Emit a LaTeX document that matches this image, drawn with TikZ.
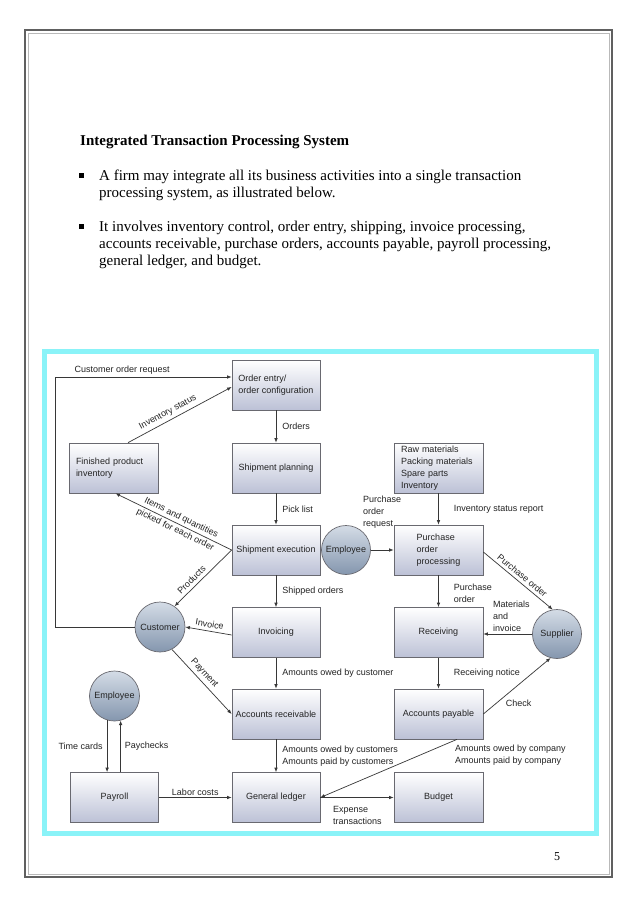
\documentclass[tikz,border=0pt]{standalone}
\usepackage{fontspec}
\setmainfont{Liberation Serif}
\newfontfamily\diafont{Liberation Sans}
\usetikzlibrary{arrows.meta,shadings}
\definecolor{boxbot}{RGB}{188,193,214}
\definecolor{circtop}{RGB}{212,220,230}
\definecolor{circbot}{RGB}{132,150,174}
\definecolor{cyanframe}{RGB}{138,243,248}
\definecolor{linecol}{RGB}{55,55,55}
\definecolor{boxline}{RGB}{105,105,112}
\definecolor{txtcol}{RGB}{35,35,35}
\begin{document}
\begin{tikzpicture}[x=1pt,y=-1pt,
  diatext/.style={font=\diafont\fontsize{9}{12}\selectfont, text=txtcol},
  box/.style={diatext, draw=boxline, line width=0.7pt, top color=white, bottom color=boxbot,
    minimum width=88pt, minimum height=50pt, inner sep=2pt, align=center},
  lbox/.style={box, align=left},
  circ/.style={diatext, circle, draw=boxline, line width=0.7pt, top color=circtop, bottom color=circbot,
    minimum size=49pt, inner sep=0pt},
  arr/.style={draw=linecol, line width=0.7pt, -{Latex[length=4.5pt,width=3.6pt]}},
  lbl/.style={diatext, inner sep=2pt},
  slab/.style={lbl, sloped, above, inner sep=3.2pt},
  rlab/.style={lbl, right, xshift=4pt, align=left},
  rlabb/.style={lbl, right, xshift=13pt, align=left},
  bodytext/.style={font=\fontsize{15}{17.2}\selectfont, anchor=base west, inner sep=0pt},
  bulletsq/.style={fill=black, rectangle, minimum size=4.6pt, inner sep=0pt}
]
\useasboundingbox (0,0) rectangle (638,903);
\fill[white] (0,0) rectangle (638,903);

% page border
\draw[gray!75!black, line width=1.3pt] (25,30) rectangle (612,877);
\draw[gray!55, line width=0.6pt] (28,33) rectangle (609,874);

% heading text
\node[bodytext, font=\fontsize{15}{17.2}\selectfont\bfseries] (title) at (80,145) {Integrated Transaction Processing System};
\node[bulletsq] (b1) at (81.5,175.5) {};
\node[bodytext] (t1) at (99,180) {A firm may integrate all its business activities into a single transaction};
\node[bodytext] (t2) at (99,197) {processing system, as illustrated below.};
\node[bulletsq] (b2) at (81.5,226.5) {};
\node[bodytext] (t3) at (99,231) {It involves inventory control, order entry, shipping, invoice processing,};
\node[bodytext] (t4) at (99,248) {accounts receivable, purchase orders, accounts payable, payroll processing,};
\node[bodytext] (t5) at (99,265) {general ledger, and budget.};

% page number
\node[font=\fontsize{12}{14}\selectfont, anchor=base] (pnum) at (557,860) {5};

% cyan frame
\draw[cyanframe, line width=5pt] (44,351) rectangle (596.5,833);

% boxes
\node[lbox] (oe)  at (276,385) {Order entry/\\order configuration};
\node[box]  (sp)  at (276,468) {Shipment planning};
\node[lbox, minimum width=89pt, text width=75pt] (fpi) at (113.5,468) {Finished product\\inventory};
\node[lbox, minimum width=89pt, text width=75pt, font=\diafont\fontsize{9}{11.8}\selectfont] (raw) at (438.5,468) {Raw materials\\Packing materials\\Spare parts\\Inventory};
\node[box]  (se)  at (276,550) {Shipment execution};
\node[lbox, minimum width=89pt] (pop) at (438.5,550) {Purchase\\order\\processing};
\node[box]  (inv) at (276,632.5) {Invoicing};
\node[box, minimum width=89pt] (rec) at (438.5,632.5) {Receiving};
\node[box]  (ar)  at (276,714) {Accounts receivable};
\node[box, minimum width=89pt] (ap)  at (438.5,714) {Accounts payable};
\node[box]  (pay) at (114.5,797.5) {Payroll};
\node[box]  (gl)  at (276,797.5) {General ledger};
\node[box, minimum width=89pt] (bud) at (438.5,797.5) {Budget};

% circles
\node[circ] (emp1) at (346,550) {Employee};
\node[circ, minimum size=50pt] (cust) at (160,627) {Customer};
\node[circ] (sup)  at (557,634) {Supplier};
\node[circ, minimum size=50pt] (emp2) at (114.5,696) {Employee};

% connectors
\coordinate (lc) at (55,377);
\draw[arr] (cust.west) -| (lc) -- node[lbl, above, pos=0.38] {Customer order request} (oe.west |- lc);
\draw[arr] ([xshift=14.5pt]fpi.north) -- node[slab, pos=0.42] {Inventory status} ([yshift=-2pt]oe.west);
\draw[arr] (oe) -- node[rlab] {Orders} (sp);
\draw[arr] (sp) -- node[rlab] {Pick list} (se);
\draw[arr] (se.west) -- node[lbl, sloped, pos=0.46, align=center, font=\diafont\fontsize{9}{13.5}\selectfont] {Items and quantities\\picked for each order} ([xshift=2pt]fpi.south);
\draw[arr] (se.west) -- node[slab, pos=0.62] {Products} (cust.55);
\draw[arr] (se) -- node[rlab] {Shipped orders} (inv);
\draw[arr] ([yshift=-2.5pt]inv.west) -- node[slab, pos=0.5] {Invoice} (cust.east);
\draw[arr] (cust.-62) -- node[slab, pos=0.45] {Payment} (ar.west);
\draw[arr] (inv) -- node[rlab] {Amounts owed by customer} (ar);
\draw[arr] (ar) -- node[rlab] {Amounts owed by customers\\Amounts paid by customers} (gl);
\draw[arr] (emp2.-107) -- node[lbl, left, xshift=-2pt] {Time cards} (emp2.-107 |- pay.north);
\draw[arr] (emp2.-76 |- pay.north) -- node[lbl, right, xshift=2pt] {Paychecks} (emp2.-76);
\draw[arr] (pay) -- node[lbl, above] {Labor costs} (gl);
\draw[arr] (emp1.east) -- (pop.west);
\node[lbl, align=left, anchor=south west] (porq) at (361,531) {Purchase\\order\\request};
\draw[arr] (raw) -- node[rlabb] {Inventory status report} (pop);
\draw[arr] (pop) -- node[rlabb, yshift=-2pt] {Purchase\\order} (rec);
\draw[arr] ([yshift=-2pt]pop.east) -- node[slab, pos=0.5] {Purchase order} (sup.100);
\draw[arr] (sup.west) -- (rec.east |- sup.west);
\node[lbl, align=left, anchor=south west] (matl) at (491,634) {Materials\\and\\invoice};
\draw[arr] (rec) -- node[rlabb] {Receiving notice} (ap);
\draw[arr] (ap.east) -- node[lbl, pos=0.3, below right] {Check} (sup.-105);
\draw[arr] ([xshift=18.5pt]ap.south) -- (gl.east);
\node[lbl, align=left, anchor=north west] (aoc) at (453,743) {Amounts owed by company\\Amounts paid by company};
\draw[arr] (gl.east) -- (bud.west);
\node[lbl, align=left, anchor=north west] (exp) at (331,804) {Expense\\transactions};
\end{tikzpicture}
\end{document}
